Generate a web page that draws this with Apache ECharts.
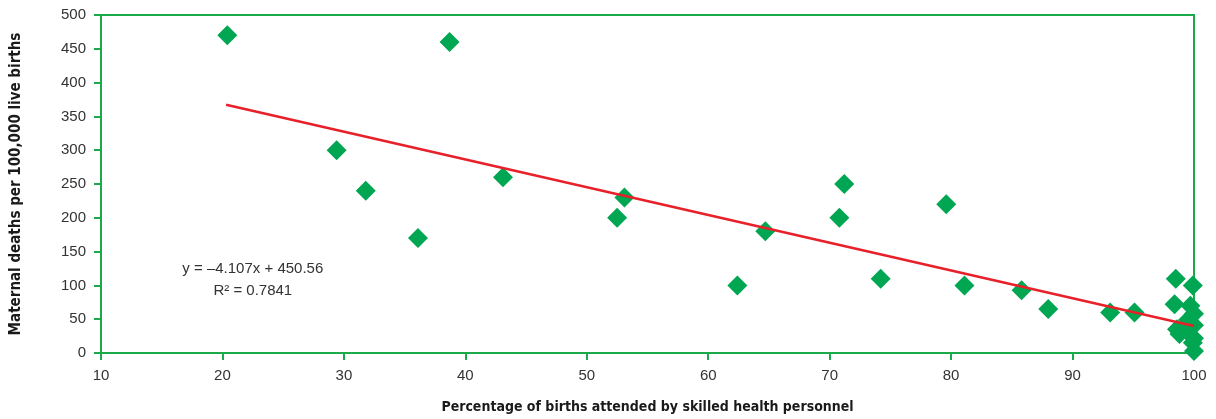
<!DOCTYPE html>
<html>
<head>
<meta charset="utf-8">
<script src="https://cdn.jsdelivr.net/npm/echarts@6/dist/echarts.min.js"></script>
<style>
html,body{margin:0;padding:0;background:#fff;}
#chart{width:1216px;height:419px;}
</style>
</head>
<body>
<div id="chart"></div>
<script>
// Percentage of births attended by skilled health personnel (x)
var skilledPct = [20.4, 38.7, 29.4, 31.8, 36.1, 43.1, 52.5, 53.1, 62.4, 64.7, 70.8, 71.2, 74.2, 79.6, 81.1, 85.8, 88.0, 93.1, 95.1,
                  98.5, 99.9, 98.4, 99.7, 100, 98.6, 98.8, 99.6, 99.9, 100, 100, 99.5, 100];
// Maternal deaths per 100,000 live births (y)
var maternalDeaths = [470, 460, 300, 240, 170, 260, 200, 230, 100, 180, 200, 250, 110, 220, 100, 93, 65, 60, 60,
                      110, 100, 72, 70, 58, 35, 28, 37, 15, 3, 22, 49, 41];
// Trend line end points (as drawn)
var trendX = [20.3, 100];
var trendY = [367.2, 39.9];
var trendLabel = ['y = \u20134.107x + 450.56', 'R\u00b2 = 0.7841'];
var xTicks = {min: 10, max: 100, interval: 10};
var yTicks = {min: 0, max: 500, interval: 50};

var points = skilledPct.map(function (x, i) { return [x, maternalDeaths[i]]; });
var trend = trendX.map(function (x, i) { return [x, trendY[i]]; });

var green = '#1aaa4a';
var titleFont = "'DejaVu Sans Condensed', 'Liberation Sans', sans-serif";
var chart = echarts.init(document.getElementById('chart'), null, {renderer: 'canvas'});
chart.setOption({
  animation: false,
  grid: {left: 101, right: 22, top: 15, bottom: 66, show: true, borderColor: green, borderWidth: 2, backgroundColor: 'transparent'},
  xAxis: {
    type: 'value', min: xTicks.min, max: xTicks.max, interval: xTicks.interval,
    name: 'Percentage of births attended by skilled health personnel',
    nameLocation: 'middle', nameGap: 47,
    nameTextStyle: {fontFamily: titleFont, fontWeight: 'bold', fontSize: 14, color: '#1a1a1a'},
    axisLine: {lineStyle: {color: green, width: 2}},
    axisTick: {lineStyle: {color: green, width: 2}, length: 7},
    axisLabel: {fontFamily: 'Liberation Sans', fontSize: 15, color: '#333', margin: 15},
    splitLine: {show: false}
  },
  yAxis: {
    type: 'value', min: yTicks.min, max: yTicks.max, interval: yTicks.interval,
    name: 'Maternal deaths per 100,000 live births',
    nameLocation: 'middle', nameGap: 77, nameRotate: 90,
    nameTextStyle: {fontFamily: titleFont, fontWeight: 'bold', fontSize: 15, color: '#1a1a1a'},
    axisLine: {show: true, lineStyle: {color: green, width: 2}},
    axisTick: {show: true, lineStyle: {color: green, width: 2}, length: 7},
    axisLabel: {fontFamily: 'Liberation Sans', fontSize: 15, color: '#333', margin: 15},
    splitLine: {show: false}
  },
  series: [
    {
      type: 'line', data: trend, symbol: 'none', z: 3,
      lineStyle: {color: '#e8202a', width: 2.5},
      markPoint: {
        symbol: 'circle', symbolSize: 0,
        data: [{coord: [22.5, 108]}],
        label: {show: true, position: 'inside', formatter: trendLabel.join('\n'),
          fontFamily: 'Liberation Sans', fontSize: 15, lineHeight: 22, color: '#333', align: 'center'}
      }
    },
    {
      type: 'scatter', data: points, symbol: 'diamond', symbolSize: 20, z: 2,
      itemStyle: {color: '#00a651', opacity: 1}
    }
  ]
});
</script>
</body>
</html>
